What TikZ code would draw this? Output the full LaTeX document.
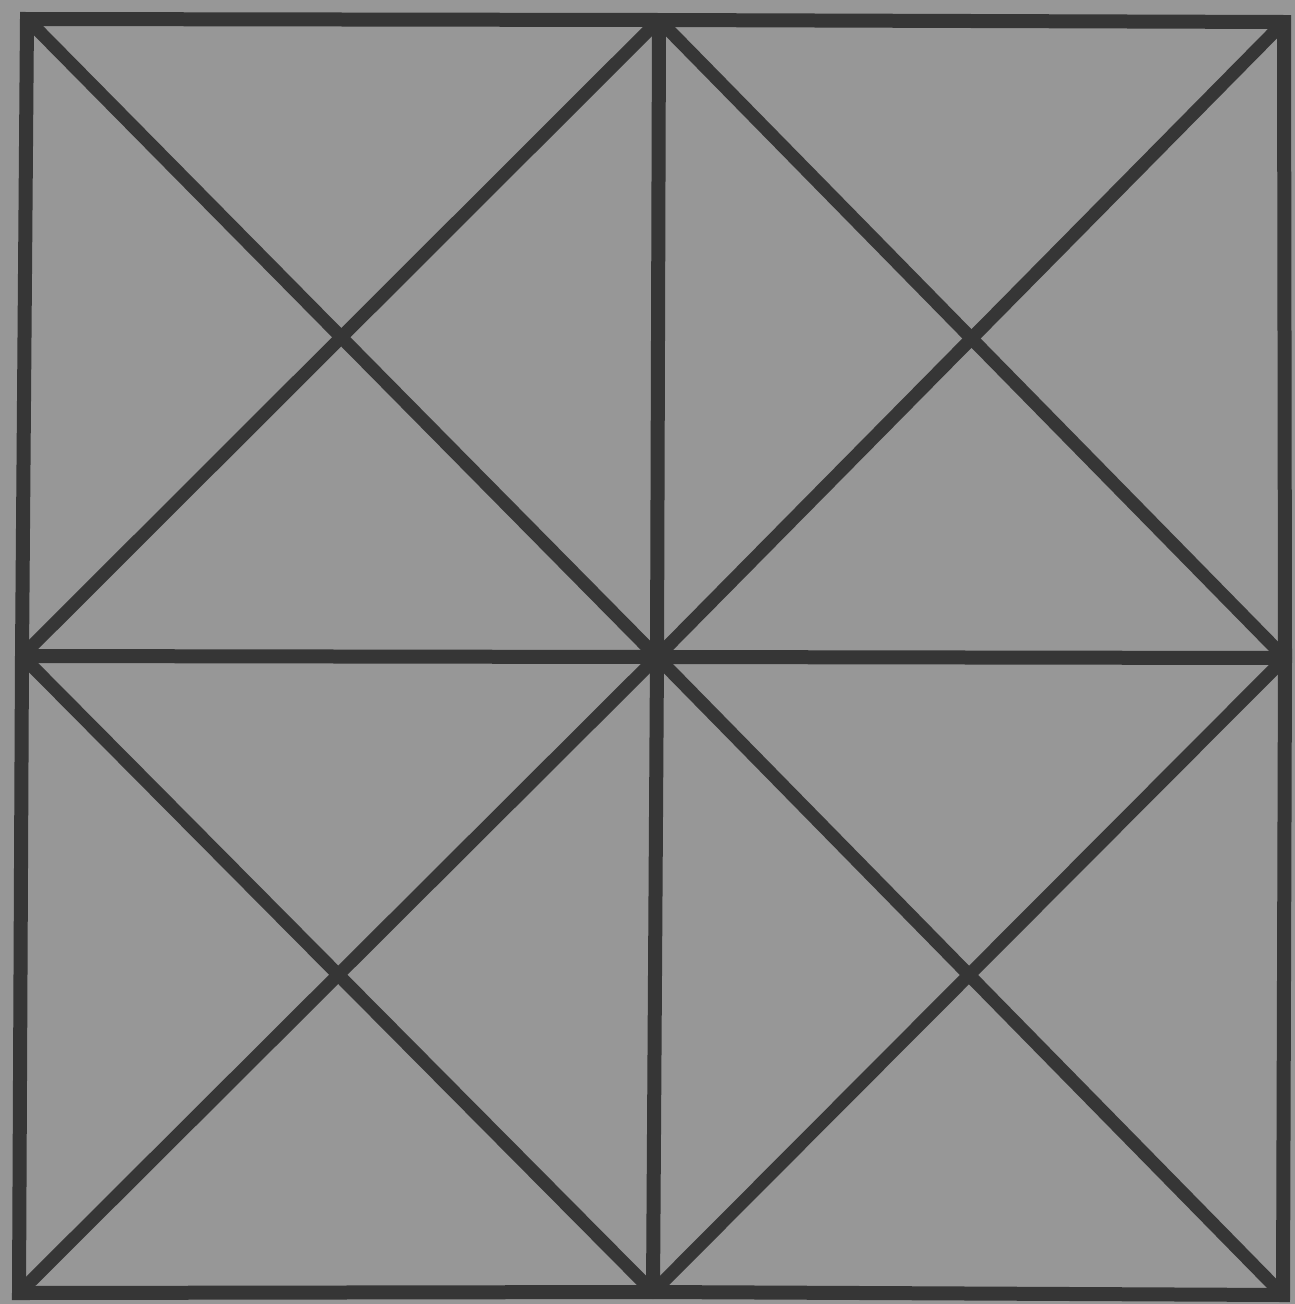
\documentclass[tikz,border=0pt]{standalone}
\begin{document}
\begin{tikzpicture}[x=1pt,y=-1pt,
  ln/.style={draw=lineC,line width=14pt,line cap=round,line join=miter},
  dg/.style={ln,line width=13pt}]
\definecolor{bgC}{HTML}{979797}
\definecolor{lineC}{HTML}{363636}
\fill[bgC] (0,0) rectangle (1295,1304);
\useasboundingbox (0,0) rectangle (1295,1304);
\coordinate (TL) at (27,19);
\coordinate (TM) at (659,20);
\coordinate (TR) at (1284,22);
\coordinate (ML) at (22,656);
\coordinate (C) at (657,657);
\coordinate (MR) at (1285,658);
\coordinate (BL) at (19,1293);
\coordinate (BM) at (653,1292);
\coordinate (BR) at (1283,1295);
% outer square
\draw[ln,line cap=rect] (TL) -- (TM) -- (TR) -- (MR) -- (BR) -- (BM) -- (BL) -- (ML) -- cycle;
% cross
\draw[ln] (TM) -- (C) -- (BM);
\draw[ln] (ML) -- (C) -- (MR);
% diagonals
\draw[dg] (TL) -- (C);
\draw[dg] (TM) -- (ML);
\draw[dg] (TM) -- (MR);
\draw[dg] (TR) -- (C);
\draw[dg] (ML) -- (BM);
\draw[dg] (C) -- (BL);
\draw[dg] (C) -- (BR);
\draw[dg] (MR) -- (BM);
\end{tikzpicture}
\end{document}
